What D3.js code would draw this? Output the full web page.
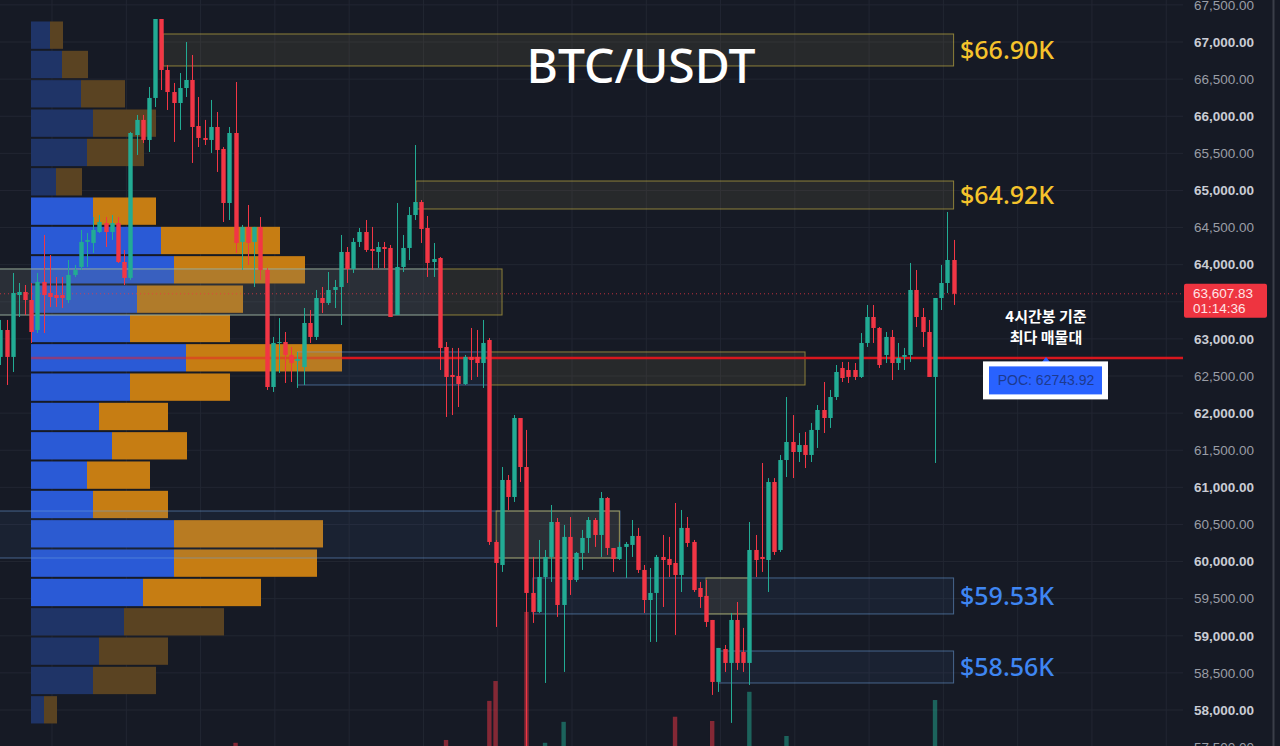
<!DOCTYPE html>
<html><head><meta charset="utf-8">
<script src="https://cdn.jsdelivr.net/npm/d3@7"></script>
<style>
html,body{margin:0;padding:0;background:#161a25;overflow:hidden;}
svg{display:block;}
</style></head><body>
<svg id="chart" width="1280" height="746"></svg>
<script>
// ---------- DATA ----------
const opens = [62757,63120,62757,63591,63632,63524,63120,63767,63618,63591,
63591,63524,63861,63969,64306,64292,64440,64561,64440,64561,
64036,63821,65747,65950,65680,66246,67310,66623,66326,66178,
66380,66488,65868,65707,65680,65855,65559,64831,65774,64306,
64508,64306,64508,63928,62352,62945,62958,62783,62702,62621,
63214,63026,63551,63484,63659,63699,64171,63942,64306,64440,
64211,64171,64238,64225,63322,63969,64225,64669,64844,64494,
64036,64090,62891,62514,62500,62392,62757,62757,62675,62985,
60264,59954,61099,60870,61934,61274,59577,59321,59792,60062,
60533,59415,60332,59752,60116,60318,60560,60358,60856,60183,
60035,60197,60224,60345,59887,59482,59577,60062,60035,59981,
59819,60453,60264,59644,59537,59213,58378,58822,58634,59213,
58782,58634,60156,60062,60021,61072,60156,61368,61611,61476,
61570,61436,61773,62042,61934,62217,62608,62581,62581,62487,
62945,63295,63147,62783,63026,62675,62757,62783,63659,63295,
63093,62487,63551,63753,64063];
const closes = [63120,62757,63618,63632,63524,63093,63767,63591,63564,63551,
63551,63861,63928,64306,64333,64467,64575,64440,64561,64036,
63821,65774,65950,65680,66246,67310,66623,66326,66178,66380,
66488,65855,65707,65680,65855,65545,64831,65774,64292,64508,
64292,64508,63928,62352,62945,62958,62783,62675,62729,63214,
63026,63551,63484,63659,63699,64171,63942,64306,64440,64198,
64184,64238,64211,63295,63969,64225,64669,64844,64481,64023,
64076,62878,62487,62487,62392,62757,62716,62675,62945,60264,
59981,61099,60870,61934,61274,59577,59321,59792,60062,60533,
59415,60332,59752,60116,60318,60560,60358,60856,60183,60035,
60197,60237,60345,59887,59482,59577,60062,60021,59954,59819,
60453,60250,59617,59523,59186,58378,58836,58634,59213,58634,
58634,60156,60021,60035,61072,60129,61368,61611,61476,61570,
61436,61773,62042,61934,62217,62554,62473,62487,62487,62945,
63295,63147,62648,63026,62675,62743,62783,63659,63295,63093,
62487,63551,63753,64063,63607.83];
const highs = [63255,63255,63888,63753,63726,63753,63888,64400,64130,63834,
63834,64063,63996,64467,64427,64642,64669,64642,64669,64642,
64198,65788,66017,66017,66394,67310,67310,66690,66448,66582,
67000,66825,66259,65950,66219,66057,65585,65855,66461,64535,
64804,64508,64642,63955,63026,63281,63093,62891,62824,63416,
63389,63659,63699,63901,63794,64400,64238,64359,64494,64602,
64508,64306,64306,64265,64831,64400,64777,65612,64871,64656,
64292,64103,62958,62878,62878,62783,63147,63120,63255,63012,
60291,61274,61166,61974,61934,61773,60062,60291,60156,60762,
60587,60493,60600,60129,60426,60600,60587,60937,60870,60183,
60264,60264,60560,60453,59954,59913,60089,60358,60332,60789,
60695,60600,60291,59725,59752,59213,58836,58876,59307,59455,
59106,60533,60358,61328,61125,61125,61436,62217,61974,61732,
61746,61867,62109,62419,62312,62648,62689,62689,62675,63079,
63457,63457,63160,63093,63120,62945,62878,64023,63928,63416,
63255,63551,63996,64710,64333];
const lows = [62648,62379,62554,63295,63322,62945,63079,63079,63430,63430,
63416,63484,63834,63928,63969,64157,64427,64238,64333,64023,
63726,63794,65478,65639,65518,66124,66353,66084,65653,65815,
66259,65370,65585,65612,65505,65249,64575,64602,64157,63928,
63996,63699,63794,62312,62285,62541,62406,62419,62339,62379,
62945,62985,63349,63457,63416,63187,63753,63888,64238,64171,
63928,63955,63955,63295,63322,63901,64063,64602,64292,63834,
63834,62581,61948,61974,62082,62379,62446,62487,62339,60224,
59119,59860,60695,60803,61072,57407,59173,59307,58364,59725,
59254,58513,59550,59725,59887,60116,60197,60062,60089,59860,
60021,59779,60062,59846,59307,58917,58917,59388,59792,59011,
59590,60197,59590,59375,59119,58203,58243,58513,57826,58540,
58513,58337,59792,59860,59590,60089,60129,61139,61125,61341,
61260,61341,61530,61732,61800,62177,62419,62406,62446,62473,
62891,62945,62608,62675,62446,62581,62581,62689,63160,62891,
62487,61328,63389,63618,63457];

// volume bars that reach into the visible frame (candle index, volume)
const volIndex  = [38, 72, 79, 80, 85, 88, 91, 109, 115, 121, 127, 151];
const volValues = [4800, 5300, 12200, 15700, 27900, 4800, 8500, 9400, 8650, 13800, 6000, 12350];

// volume profile rows, from lowest price row to highest
const profileLow = 57805, profileHigh = 67290;
const profileUp   = [1300,6200,6800,9300,11200,14300,14300,6200,5600,8100,6800,9900,15500,9900,10600,14300,13000,6200,2500,5600,6200,5000,3100,1900];
const profileDown = [1300,6300,6900,10000,11800,14300,14900,7500,6300,7500,6900,10000,15600,10000,10600,13100,11900,6300,2600,5700,6300,4400,2600,1300];
const valueAreaRows = [4, 17];
const pocPrice = 62743.92;
const lastPrice = 63607.83;
const countdown = "01:14:36";

// zones: [startIndex, endIndex, top, bottom, kind]
const zoneStart = [-1, -1, 79.1, 48, -1, 80.1, 86.05, 114, 116, 26.3, 67.15];
const zoneEnd   = [81.05, 71, 130, 79.1, 100.1, 100, 154, 121.1, 154, 154, 154];
const zoneTop   = [63942, 63942, 62824, 62824, 60681, 60681, 59779, 59779, 58795, 67108, 65127];
const zoneBot   = [63322, 63322, 62379, 62379, 60048, 60048, 59294, 59294, 58364, 66677, 64750];
const zoneKind  = ["y","b","y","b","b","y","b","y","b","y","y"];

const levelLabels = ["$66.90K", "$64.92K", "$59.53K", "$58.56K"];
const levelPrices = [66892, 64938, 59537, 58580];
const levelKinds  = ["y","y","b","b"];

const priceTicks = d3.range(57500, 68000, 500);
const timeGrid = d3.range(8.35, 190, 12);

const title = "BTC/USDT";
const noteLines = ["4시간봉 기준", "최다 매물대"];

// ---------- DRAW ----------
const W = 1280, H = 746, plotRight = 1183;
const svg = d3.select('#chart');
const x = d3.scaleLinear().domain([0, 154]).range([0.34, 953.6]);
const y = d3.scaleLinear().domain([58000, 67000]).range([710, 42]);
const vy = d3.scaleLinear().domain([0, 30000]).range([770, 600]);
const pw = d3.scaleLinear().domain([0, 10000]).range([0, 100]);
const profileX0 = 31;

svg.append('rect').attr('width', W).attr('height', H).attr('fill', '#161a25');

const defs = svg.append('defs');
defs.append('clipPath').attr('id', 'plot').append('rect')
  .attr('x', 0).attr('y', 0).attr('width', plotRight).attr('height', H);

const plot = svg.append('g').attr('clip-path', 'url(#plot)');

// grid
plot.append('g').selectAll('line.h').data(priceTicks).join('line')
  .attr('x1', 0).attr('x2', plotRight).attr('y1', d => y(d)).attr('y2', d => y(d))
  .attr('stroke', '#222632').attr('stroke-width', 1);
plot.append('g').selectAll('line.v').data(timeGrid).join('line')
  .attr('x1', d => x(d)).attr('x2', d => x(d)).attr('y1', 0).attr('y2', H)
  .attr('stroke', '#222632').attr('stroke-width', 1);

// volume profile
const rowSize = (profileHigh - profileLow) / profileUp.length;
const prof = plot.append('g');
profileUp.forEach((u, i) => {
  const lo = profileLow + i * rowSize, hi = lo + rowSize;
  const inVA = i >= valueAreaRows[0] && i <= valueAreaRows[1];
  const yt = y(hi) + 1, yb = y(lo) - 1;
  prof.append('rect').attr('x', profileX0).attr('y', yt).attr('width', pw(u)).attr('height', yb - yt)
    .attr('fill', inVA ? '#2a5ad6' : '#1f3467');
  prof.append('rect').attr('x', profileX0 + pw(u)).attr('y', yt).attr('width', pw(profileDown[i])).attr('height', yb - yt)
    .attr('fill', inVA ? '#c67d13' : '#5a4322');
});

// zones
const zg = plot.append('g');
zoneStart.forEach((s, i) => {
  const isY = zoneKind[i] === 'y';
  const x1 = x(s), x2 = x(zoneEnd[i]);
  zg.append('rect').attr('x', x1).attr('y', y(zoneTop[i])).attr('width', x2 - x1)
    .attr('height', y(zoneBot[i]) - y(zoneTop[i]))
    .attr('fill', isY ? 'rgba(140,130,80,0.15)' : 'rgba(70,110,170,0.10)')
    .attr('stroke', isY ? 'rgba(214,192,70,0.6)' : 'rgba(110,160,220,0.55)')
    .attr('stroke-width', 1);
});

// POC line
const profEnd = profileX0 + d3.max(profileUp.map((u, i) => pw(u) + pw(profileDown[i])));
plot.append('line').attr('x1', profileX0).attr('x2', profEnd).attr('y1', y(pocPrice)).attr('y2', y(pocPrice))
  .attr('stroke', '#e8232a').attr('stroke-width', 2.5).attr('opacity', 0.5);
plot.append('line').attr('x1', profEnd).attr('x2', plotRight).attr('y1', y(pocPrice)).attr('y2', y(pocPrice))
  .attr('stroke', '#d8171e').attr('stroke-width', 2.5);

// last price dotted line
plot.append('line').attr('x1', 0).attr('x2', plotRight).attr('y1', y(lastPrice)).attr('y2', y(lastPrice))
  .attr('stroke', '#f23645').attr('stroke-width', 1).attr('stroke-dasharray', '1,3').attr('opacity', 0.75);

// volume bars
plot.append('g').selectAll('rect').data(volIndex).join('rect')
  .attr('x', d => x(d) - 2.2).attr('width', 4.4)
  .attr('y', (d, i) => vy(volValues[i])).attr('height', (d, i) => vy(0) - vy(volValues[i]))
  .attr('fill', d => closes[d] >= opens[d] ? 'rgba(34,171,148,0.5)' : 'rgba(242,54,69,0.5)');

// candles
const up = '#22ab94', down = '#f23645';
const cg = plot.append('g');
const idx = d3.range(opens.length);
cg.selectAll('line').data(idx).join('line')
  .attr('x1', i => Math.round(x(i)) + 0.5).attr('x2', i => Math.round(x(i)) + 0.5)
  .attr('y1', i => y(highs[i])).attr('y2', i => y(lows[i]))
  .attr('stroke', i => closes[i] >= opens[i] ? up : down).attr('stroke-width', 1);
cg.selectAll('rect').data(idx).join('rect')
  .attr('x', i => Math.round(x(i)) + 0.5 - 2.2).attr('width', 4.4)
  .attr('y', i => y(Math.max(opens[i], closes[i])))
  .attr('height', i => Math.max(1, Math.abs(y(opens[i]) - y(closes[i]))))
  .attr('fill', i => closes[i] >= opens[i] ? up : down);

// level labels
svg.append('g').selectAll('text').data(levelLabels).join('text')
  .attr('x', 960).attr('y', (d, i) => y(levelPrices[i]) + 9)
  .attr('font-family', '"Noto Sans", "Open Sans", sans-serif').attr('font-size', 25).attr('font-weight', 500)
  .attr('fill', (d, i) => levelKinds[i] === 'y' ? '#f5c32c' : '#3f86f2')
  .text(d => d);

// title
svg.append('text').attr('x', 641).attr('y', 83).attr('text-anchor', 'middle')
  .attr('font-family', '"Noto Sans", "Open Sans", sans-serif').attr('font-size', 48).attr('font-weight', 500)
  .attr('fill', '#ffffff').text(title);

// right price axis (the label hidden under the last-price tag is not drawn)
const ly = y(lastPrice);
const shownTicks = priceTicks.filter(t => Math.abs(y(t) - (ly + 7)) > 22);
const axis = d3.axisRight(y).tickValues(shownTicks).tickFormat(d3.format(',.2f')).tickSize(0).tickPadding(11);
const ag = svg.append('g').attr('transform', `translate(${plotRight},0)`).call(axis);
ag.select('.domain').remove();
ag.selectAll('text')
  .attr('font-family', '"Liberation Sans", Arial, sans-serif')
  .attr('font-size', 13.5)
  .attr('font-weight', d => d % 1000 === 0 ? 700 : 400)
  .attr('fill', d => d % 1000 === 0 ? '#c9ccd4' : '#9a9da6');
svg.append('line').attr('x1', 1273.5).attr('x2', 1273.5).attr('y1', 0).attr('y2', H)
  .attr('stroke', '#3a3e49').attr('stroke-width', 2);

// last price tag
svg.append('rect').attr('x', 1184).attr('y', ly - 10).attr('width', 83).attr('height', 34).attr('rx', 2)
  .attr('fill', '#ee3440');
svg.append('text').attr('x', 1193).attr('y', ly + 4).attr('font-family', '"Liberation Sans", Arial, sans-serif')
  .attr('font-size', 13.5).attr('fill', '#ffe4e6').text(d3.format(',.2f')(lastPrice));
svg.append('text').attr('x', 1193).attr('y', ly + 19).attr('font-family', '"Liberation Sans", Arial, sans-serif')
  .attr('font-size', 13.5).attr('fill', '#ffe4e6').text(countdown);

// POC annotation
const py = y(pocPrice);
svg.append('g').selectAll('text').data(noteLines).join('text')
  .attr('x', 1046).attr('y', (d, i) => 322 + i * 21).attr('text-anchor', 'middle')
  .attr('font-family', '"Noto Sans CJK KR", "Noto Sans", sans-serif').attr('font-size', 15).attr('font-weight', 700)
  .attr('fill', '#ffffff').text(d => d);
svg.append('path').attr('d', `M${1046 - 4},${py + 4} L${1046 + 4},${py + 4} L1046,${py - 1} Z`).attr('fill', '#2962ff');
svg.append('rect').attr('x', 983).attr('y', py + 3.5).attr('width', 125).attr('height', 38).attr('fill', '#ffffff');
svg.append('rect').attr('x', 989).attr('y', py + 8.5).attr('width', 113).attr('height', 28).attr('fill', '#2962ff');
svg.append('text').attr('x', 1046).attr('y', py + 27.5).attr('text-anchor', 'middle')
  .attr('font-family', '"Liberation Sans", Arial, sans-serif').attr('font-size', 14)
  .attr('fill', '#1d3a8f').text('POC: ' + pocPrice.toFixed(2));
</script>
</body></html>
